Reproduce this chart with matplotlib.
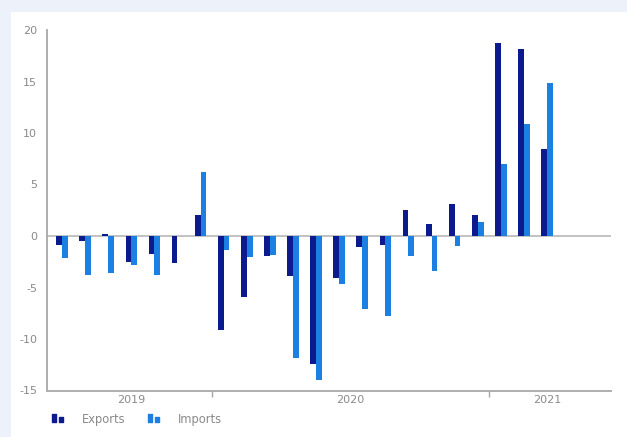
import matplotlib
matplotlib.use("Agg")
import matplotlib.pyplot as plt
import numpy as np
from matplotlib.patches import Rectangle
from matplotlib.path import Path
from matplotlib.lines import Line2D

# Monthly data, Jun 2019 - Mar 2021
months = ["2019-06", "2019-07", "2019-08", "2019-09", "2019-10", "2019-11", "2019-12",
          "2020-01", "2020-02", "2020-03", "2020-04", "2020-05", "2020-06", "2020-07",
          "2020-08", "2020-09", "2020-10", "2020-11", "2020-12",
          "2021-01", "2021-02", "2021-03"]
exports = [-0.9, -0.5, 0.2, -2.5, -1.75, -2.65, 2.0,
           -9.1, -5.9, -1.9, -3.9, -12.4, -4.1, -1.1,
           -0.85, 2.55, 1.2, 3.15, 2.05,
           18.7, 18.2, 8.45]
imports = [-2.1, -3.8, -3.6, -2.8, -3.8, 0.0, 6.2,
           -1.4, -2.0, -1.85, -11.8, -14.0, -4.7, -7.05,
           -7.8, -1.95, -3.4, -0.95, 1.4,
           7.0, 10.9, 14.9]
year_labels = ["2019", "2020", "2021"]
year_label_pos = [3.0, 12.5, 21.0]
year_boundaries = [6.5, 18.5]
yticks = [-15, -10, -5, 0, 5, 10, 15, 20]

EXP_COLOR = "#0b1b8e"
IMP_COLOR = "#1b80e2"
TXT = "#8a8a8a"

W, H = 627, 437
fig = plt.figure(figsize=(W / 100, H / 100), dpi=100)
fig.patch.set_facecolor("#edf2fa")
fig.patches.append(Rectangle((11 / W, 0), 1 - 11 / W, 1 - 12 / H,
                             transform=fig.transFigure, facecolor="white",
                             edgecolor="none", zorder=-5))

ax = fig.add_axes([47 / W, 1 - 390.5 / H, (611 - 47) / W, (390.5 - 30) / H])
ax.set_zorder(2)
ax.set_facecolor("none")

x = np.arange(len(months))
bw = 0.25
ax.bar(x - bw / 2, exports, width=bw, color=EXP_COLOR, zorder=3)
ax.bar(x + bw / 2, imports, width=bw, color=IMP_COLOR, zorder=3)

ax.set_xlim(-0.65, 23.77)
ax.set_ylim(-15, 20)
ax.axhline(0, color="#bdbdbd", lw=1.3, zorder=2)

for s in ["top", "right"]:
    ax.spines[s].set_visible(False)
ax.spines["left"].set_color("#a8a8a8")
ax.spines["left"].set_linewidth(1.3)
ax.spines["bottom"].set_color("#a8a8a8")
ax.spines["bottom"].set_linewidth(1.3)

ax.set_yticks(yticks)
ax.set_yticklabels([str(v) for v in yticks])
ax.tick_params(axis="y", length=0, pad=7, labelsize=8, labelcolor=TXT)

ax.set_xticks(year_boundaries)
ax.set_xticklabels([])
ax.tick_params(axis="x", which="major", length=4, width=1, color="#a8a8a8", direction="out")
ax.set_xticks(year_label_pos, minor=True)
ax.set_xticklabels(year_labels, minor=True)
ax.tick_params(axis="x", which="minor", length=0, pad=3, labelsize=8, labelcolor=TXT)

# Legend icons: a tall bar plus a small square
verts = [(-5.5, -4), (-2, -4), (-2, 4), (-5.5, 4), (-5.5, -4),
         (1, -4), (5, -4), (5, 0.5), (1, 0.5), (1, -4)]
codes = [Path.MOVETO, Path.LINETO, Path.LINETO, Path.LINETO, Path.CLOSEPOLY] * 2
icon = Path(verts, codes)
handles = [Line2D([], [], marker=icon, markersize=8, color=EXP_COLOR, lw=0),
           Line2D([], [], marker=icon, markersize=8, color=IMP_COLOR, lw=0)]
fig.legend(handles, ["Exports", "Imports"], loc="center left",
           bbox_to_anchor=(50 / W, 1 - 419 / H), ncol=2, frameon=False,
           fontsize=8.3, labelcolor=TXT, handlelength=1.4, handletextpad=1.4,
           columnspacing=1.7, borderpad=0, borderaxespad=0)

fig.savefig("out.png", dpi=100, facecolor=fig.get_facecolor())
